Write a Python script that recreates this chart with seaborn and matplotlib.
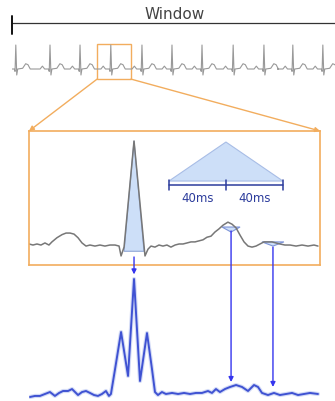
import numpy as np
import pandas as pd
import matplotlib
matplotlib.use("Agg")
import matplotlib.pyplot as plt
import matplotlib.patches as mpatches
from matplotlib.patches import ConnectionPatch
import seaborn as sns

sns.set_style("white")
plt.rcParams["font.family"] = ["DejaVu Sans"]

# ---- data ----
# ECG strip: R-peak times (s) and one beat template (offset s, mV)
strip_r_peaks = [0.1, 1.0, 1.79, 2.6, 3.42, 4.21, 5.0, 5.82, 6.63, 7.39, 8.18]
beat_dt = [-0.40, -0.26, -0.20, -0.14, -0.04, -0.02, 0.0, 0.025, 0.05, 0.18, 0.26, 0.32, 0.38]
beat_mv = [0.0, 0.0, 0.12, 0.0, 0.0, -0.10, 1.0, -0.25, 0.0, 0.03, 0.22, 0.18, 0.0]

# zoomed beat (ms, mV)
zoom_ms = [0.0, 2.8, 5.6, 8.4, 11.2, 14.0, 16.1, 19.6, 23.2, 26.0, 28.8, 31.6, 34.4, 37.2,
           40.0, 42.8, 46.3, 49.8, 53.3, 56.8, 60.4, 63.2, 64.6, 66.7, 73.7, 81.4, 83.5,
           85.6, 88.4, 91.2, 94.0, 96.8, 99.6, 102.5, 105.3, 108.1, 110.9, 113.7, 116.5,
           119.3, 122.1, 124.9, 127.7, 130.5, 133.3, 136.1, 139.6, 142.5, 145.3, 148.1,
           150.9, 153.7, 156.5, 159.3, 162.1, 164.9, 167.7, 170.5, 173.3, 176.1, 179.6,
           183.2, 187.4, 191.6, 195.8, 200.0, 202.8]
zoom_mv = [0.01, 0.0, 0.01, 0.0, 0.02, 0.0, 0.03, 0.07, 0.10, 0.115, 0.115, 0.105, 0.07, 0.02,
           -0.01, 0.0, -0.01, 0.0, -0.01, 0.0, 0.0, -0.01, -0.105, -0.02, 1.0, -0.105, -0.04,
           -0.01, -0.02, 0.0, -0.01, 0.0, -0.02, 0.0, 0.01, 0.01, 0.02, 0.03, 0.03,
           0.04, 0.05, 0.075, 0.085, 0.125, 0.155, 0.19, 0.22, 0.20, 0.165, 0.095,
           0.03, -0.01, -0.02, -0.01, 0.01, 0.03, 0.03, 0.03, 0.02, 0.01, 0.0,
           0.0, -0.01, 0.0, -0.01, 0.0, -0.01]

# filtered output (ms, a.u.)
out_ms = [0.7, 4.2, 7.7, 11.2, 14.7, 18.2, 21.1, 23.9, 27.4, 30.2, 32.3, 34.4, 37.2, 40.0,
          42.8, 45.6, 48.4, 51.2, 54.0, 56.1, 57.5, 60.4, 64.6, 69.5, 73.7, 77.9, 82.8,
          86.3, 88.4, 90.5, 93.3, 96.1, 100.4, 104.6, 108.8, 113.0, 117.2, 121.4, 125.6,
          128.4, 131.2, 134.0, 137.5, 141.1, 145.3, 149.5, 153.7, 157.9, 160.7, 163.5,
          167.7, 171.9, 176.1, 180.4, 184.6, 188.8, 193.0, 197.2, 202.8]
out_val = [-0.026, -0.017, -0.017, 0.0, 0.017, -0.017, 0.009, 0.026, 0.026, 0.043, 0.017,
           -0.009, 0.017, 0.026, 0.009, -0.009, -0.017, 0.0, 0.026, -0.017, 0.0, 0.217,
           0.539, 0.157, 1.0, 0.113, 0.530, 0.217, 0.017, -0.009, 0.017, 0.0, 0.009, 0.0,
           0.009, 0.0, 0.009, 0.009, 0.026, 0.009, 0.043, 0.017, 0.043, 0.061, 0.078,
           0.061, 0.026, 0.078, 0.061, 0.009, -0.009, 0.009, -0.009, 0.0, 0.009, -0.009,
           0.0, 0.009, 0.0]

# triangular kernel (ms offset, weight)
kernel_ms = [-40, 0, 40]
kernel_w = [0, 1, 0]
kernel_labels = ["40ms", "40ms"]

# arrow positions (ms)
arrow_ms = [73.7, 141.8, 171.2]

# ---- figure ----
W, H = 335, 402
fig = plt.figure(figsize=(W / 100, H / 100), dpi=100)
fig.patch.set_facecolor("white")

def px_axes(x0, y0, x1, y1):
    return fig.add_axes([x0 / W, 1 - y1 / H, (x1 - x0) / W, (y1 - y0) / H])

orange = "#f2ad5e"
blue_arrow = "#3535ee"
gray = "#999999"
fill_c = "#cddff8"

# strip + window bracket
ax_s = px_axes(12, 5, 335, 82)
ax_s.set_xlim(0, 323 / 38)
ax_s.set_ylim(-0.5, 2.71)
st, sv = [], []
for r in strip_r_peaks:
    st += [r + d for d in beat_dt]
    sv += beat_mv
df_s = pd.DataFrame({"t": st, "v": sv})
sns.lineplot(data=df_s, x="t", y="v", ax=ax_s, color=gray, lw=0.8, estimator=None, sort=False)
ax_s.plot([0, 323 / 38], [1.92, 1.92], color="#333333", lw=0.9, clip_on=False)
ax_s.plot([0, 0], [1.46, 2.21], color="#111111", lw=1.4, clip_on=False)
ax_s.text(4.29, 2.33, "Window", ha="center", va="center", fontsize=11, color="#444444")
ax_s.add_patch(mpatches.Rectangle((2.24, -0.42), 0.89, 1.46, fill=False, ec=orange, lw=1))
ax_s.axis("off")

# zoomed beat
ax_z = px_axes(29, 132, 320, 266)
ax_z.set_xlim(0, 291 / 1.425)
ax_z.set_ylim(-0.192, 1.096)
ax_z.add_patch(mpatches.Polygon([(66.7, -0.06), (73.7, 1.0), (80.7, -0.06)],
                                fc=fill_c, ec="#8fa6d6", lw=0.8))
kc, kb, kh = 138.2, 0.615, 0.375
ax_z.add_patch(mpatches.Polygon([(kc + m, kb + kh * w) for m, w in zip(kernel_ms, kernel_w)],
                                fc=fill_c, ec="#a8bde6", lw=0.8))
ax_z.add_patch(mpatches.Polygon([(135.4, 0.173), (148.1, 0.173), (141.8, 0.125)],
                                fc=fill_c, ec="#7f95d8", lw=0.8))
ax_z.add_patch(mpatches.Polygon([(163.5, 0.03), (178.9, 0.03), (171.2, -0.01)],
                                fc=fill_c, ec="#7f95d8", lw=0.8))
df_z = pd.DataFrame({"t": zoom_ms, "v": zoom_mv})
sns.lineplot(data=df_z, x="t", y="v", ax=ax_z, color="#777777", lw=1.1, estimator=None)
bar_c = "#2c3c9c"
ax_z.plot([kc + kernel_ms[0], kc + kernel_ms[-1]], [0.577, 0.577], color=bar_c, lw=1.1)
for m in kernel_ms:
    ax_z.plot([kc + m, kc + m], [0.53, 0.625], color=bar_c, lw=1.1)
for i, lab in enumerate(kernel_labels):
    ax_z.text(kc + (kernel_ms[i] + kernel_ms[i + 1]) / 2, 0.46, lab, ha="center",
              va="center", fontsize=8.5, color=bar_c)
ax_z.set_xticks([]); ax_z.set_yticks([])
ax_z.set_xlabel(""); ax_z.set_ylabel("")
for sp in ax_z.spines.values():
    sp.set_color(orange)
    sp.set_linewidth(1.2)

# output
ax_o = px_axes(29, 270, 320, 402)
ax_o.set_xlim(0, 291 / 1.425)
ax_o.set_ylim(-0.061, 1.087)
df_o = pd.DataFrame({"t": out_ms, "v": out_val})
sns.lineplot(data=df_o, x="t", y="v", ax=ax_o, color="#a9b8ef", lw=3.0, alpha=0.5, estimator=None)
sns.lineplot(data=df_o, x="t", y="v", ax=ax_o, color="#3f52d2", lw=1.4, estimator=None)
ax_o.axis("off")

# connectors
for (xa, ya), xb in [((2.24, -0.42), 0.0), ((3.13, -0.42), 1.0)]:
    con = ConnectionPatch(xyA=(xa, ya), coordsA=ax_s.transData, xyB=(xb, 1.0),
                          coordsB=ax_z.transAxes, arrowstyle="-|>", color=orange,
                          lw=1.0, mutation_scale=7)
    fig.add_artist(con)

starts = [-0.115, 0.135, -0.02]
ends = [1.04, 0.104, 0.061]
for x, ya, yb in zip(arrow_ms, starts, ends):
    con = ConnectionPatch(xyA=(x, ya), coordsA=ax_z.transData, xyB=(x, yb),
                          coordsB=ax_o.transData, arrowstyle="-|>", color=blue_arrow,
                          lw=1.0, mutation_scale=7)
    fig.add_artist(con)

fig.savefig("out.png", dpi=100)
